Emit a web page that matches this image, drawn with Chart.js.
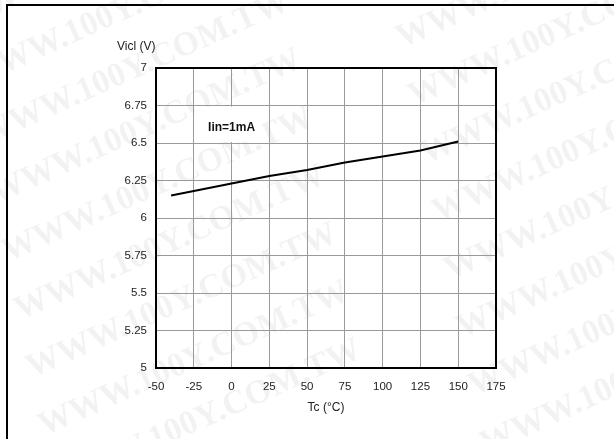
<!DOCTYPE html>
<html><head><meta charset="utf-8">
<script src="https://cdn.jsdelivr.net/npm/chart.js@4/dist/chart.umd.min.js"></script>
<style>
html,body{margin:0;padding:0;background:#fff;}
#wrap{position:relative;width:614px;height:439px;overflow:hidden;}
#frame{position:absolute;left:6px;top:4px;width:700px;height:500px;border:2px solid #000;box-sizing:border-box;}
canvas{position:absolute;left:0;top:0;}
</style></head>
<body><div id="wrap"><div id="frame"></div><canvas id="c" width="614" height="439"></canvas></div>
<script>
const temps = [-40, 0, 25, 50, 75, 100, 125, 150];
const vicl = [6.15, 6.23, 6.28, 6.32, 6.37, 6.41, 6.45, 6.51];
const xTicks = [-50, -25, 0, 25, 50, 75, 100, 125, 150, 175];
const yTicks = [5, 5.25, 5.5, 5.75, 6, 6.25, 6.5, 6.75, 7];
const yTickLabels = ['5', '5.25', '5.5', '5.75', '6', '6.25', '6.5', '6.75', '7'];
const yTitle = 'Vicl (V)';
const xTitle = 'Tc (°C)';
const note = 'Iin=1mA';
const watermark = 'WWW.100Y.COM.TW';

const FONT = '"Liberation Sans", Arial, sans-serif';

const bgPlugin = {
  id: 'bg',
  beforeDraw(chart) {
    const ctx = chart.ctx;
    ctx.save();
    ctx.font = 'bold 34px "Liberation Serif", "Times New Roman", serif';
    ctx.fillStyle = 'rgba(0,0,0,0.05)';
    const starts = [[-40, 30], [390, -10]];
    for (const [sx, sy] of starts) {
      for (let i = 0; i < 9; i++) {
        ctx.save();
        ctx.translate(sx + i * 12, sy + i * 58);
        ctx.rotate(-0.42);
        ctx.fillText(watermark, 0, 0);
        ctx.restore();
      }
    }
    ctx.restore();
  },
  afterDatasetsDraw(chart) {
    const {ctx, chartArea: a, scales: {x, y}} = chart;
    ctx.save();
    ctx.strokeStyle = '#000';
    ctx.lineWidth = 2;
    ctx.strokeRect(a.left, a.top, a.right - a.left, a.bottom - a.top);
    // annotation box
    const bx0 = x.getPixelForValue(-25) + 1, bx1 = x.getPixelForValue(20);
    const by0 = y.getPixelForValue(6.75) + 1, by1 = y.getPixelForValue(6.5) - 1;
    ctx.fillStyle = '#fff';
    ctx.fillRect(bx0, by0, bx1 - bx0, by1 - by0);
    ctx.fillStyle = '#111';
    ctx.font = 'bold 12px ' + FONT;
    ctx.textAlign = 'center';
    ctx.textBaseline = 'middle';
    ctx.fillText(note, x.getPixelForValue(0), y.getPixelForValue(6.6));
    // titles
    ctx.font = '12px ' + FONT;
    ctx.fillStyle = '#222';
    ctx.textAlign = 'left';
    ctx.fillText(yTitle, 117, 47);
    ctx.textAlign = 'center';
    ctx.fillText(xTitle, (a.left + a.right) / 2, 408);
    ctx.restore();
  }
};

new Chart(document.getElementById('c'), {
  type: 'line',
  data: {
    datasets: [{
      data: temps.map((t, i) => ({x: t, y: vicl[i]})),
      borderColor: '#000',
      borderWidth: 2,
      pointRadius: 0,
      tension: 0,
      fill: false
    }]
  },
  options: {
    responsive: false,
    animation: false,
    devicePixelRatio: 1,
    layout: {padding: {left: 0, top: 68, right: 118, bottom: 0}},
    plugins: {legend: {display: false}, tooltip: {enabled: false}},
    scales: {
      x: {
        type: 'linear', min: -50, max: 175,
        afterBuildTicks(s) { s.ticks = xTicks.map(v => ({value: v})); },
        afterFit(s) { s.height = 71; },
        grid: {color: '#9a9a9a', lineWidth: 1, drawTicks: false},
        border: {display: false},
        ticks: {padding: 12, color: '#222', font: {family: FONT, size: 11.5}, maxRotation: 0,
          callback: (v) => String(v)}
      },
      y: {
        type: 'linear', min: 5, max: 7,
        afterBuildTicks(s) { s.ticks = yTicks.map(v => ({value: v})); },
        afterFit(s) { s.width = 156; },
        grid: {color: '#9a9a9a', lineWidth: 1, drawTicks: false},
        border: {display: false},
        ticks: {padding: 9, color: '#222', font: {family: FONT, size: 11.5},
          callback: (v) => yTickLabels[yTicks.indexOf(v)] ?? ''}
      }
    }
  },
  plugins: [bgPlugin]
});
</script></body></html>
